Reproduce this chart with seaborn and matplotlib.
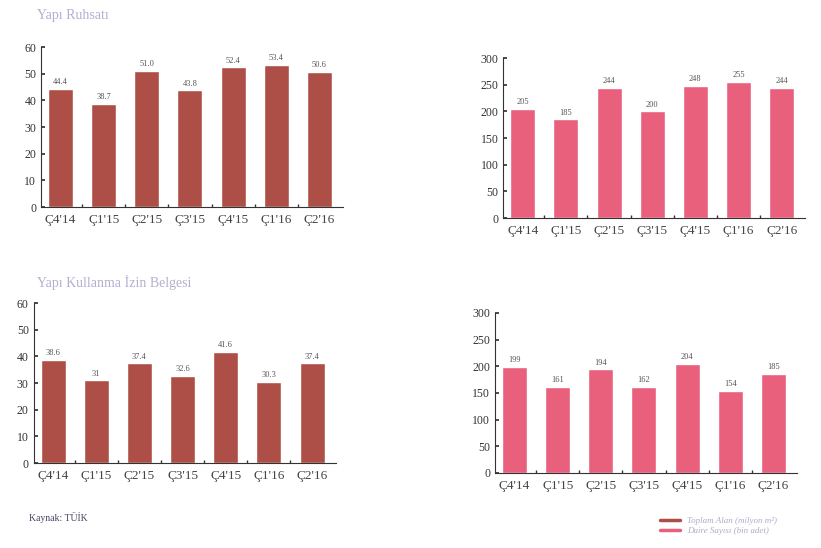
import seaborn as sns
import matplotlib.pyplot as plt
import pandas as pd
from matplotlib.lines import Line2D

quarters = ["Ç4'14", "Ç1'15", "Ç2'15", "Ç3'15", "Ç4'15", "Ç1'16", "Ç2'16"]
ruhsat_alan = [44.4, 38.7, 51.0, 43.8, 52.4, 53.4, 50.6]
ruhsat_daire = [205, 185, 244, 200, 248, 255, 244]
iskan_alan = [38.6, 31, 37.4, 32.6, 41.6, 30.3, 37.4]
iskan_daire = [199, 161, 194, 162, 204, 154, 185]

col_alan = "#ad4f47"
col_daire = "#e8607c"
title_col = "#b4aed0"

sns.set_theme(style="white")
plt.rcParams['font.family'] = ['Liberation Serif', 'DejaVu Serif']

fig = plt.figure(figsize=(8.21, 5.48), dpi=100)


def draw_panel(rect, values, color, ymax, step, fmt):
    ax = fig.add_axes(rect)
    dfrm = pd.DataFrame({'q': quarters, 'v': values})
    sns.barplot(data=dfrm, x='q', y='v', color=color, width=0.58,
                saturation=1, ax=ax)
    ax.set_ylim(0, ymax)
    ax.set_yticks(range(0, ymax + 1, step))
    ax.set_xlim(-0.45, len(quarters) - 0.45)
    ax.set_xticks([i + 0.5 for i in range(len(quarters) - 1)], minor=True)
    ax.set_xlabel("")
    ax.set_ylabel("")
    sns.despine(ax=ax)
    for side in ('left', 'bottom'):
        ax.spines[side].set_color('#333333')
        ax.spines[side].set_linewidth(0.8)
    ax.tick_params(axis='y', direction='in', length=3, labelsize=8.5,
                   colors='#333333', left=True)
    ax.tick_params(axis='x', which='major', length=0, labelsize=9.5,
                   colors='#444444', pad=5)
    ax.tick_params(axis='x', which='minor', direction='in', length=2,
                   bottom=True, colors='#333333')
    for cont in ax.containers:
        ax.bar_label(cont, labels=[fmt(v) for v in values], fontsize=6,
                     color='#555555', padding=2)
    return ax


draw_panel([0.05, 0.622, 0.368, 0.292], ruhsat_alan, col_alan, 60, 10,
           lambda v: f"{v:.1f}")
draw_panel([0.613, 0.602, 0.368, 0.292], ruhsat_daire, col_daire, 300, 50,
           lambda v: f"{v:d}")
draw_panel([0.041, 0.155, 0.368, 0.292], iskan_alan, col_alan, 60, 10,
           lambda v: f"{v:g}")
draw_panel([0.603, 0.137, 0.368, 0.292], iskan_daire, col_daire, 300, 50,
           lambda v: f"{v:d}")

fig.text(0.045, 0.972, "Yapı Ruhsatı", fontsize=10, color=title_col, va='center')
fig.text(0.045, 0.485, "Yapı Kullanma İzin Belgesi", fontsize=10,
         color=title_col, va='center')
fig.text(0.035, 0.055, "Kaynak: TÜİK", fontsize=7, color='#444466', va='center')

handles = [Line2D([], [], color=col_alan, lw=2.5),
           Line2D([], [], color=col_daire, lw=2.5)]
fig.legend(handles, ["Toplam Alan (milyon m²)", "Daire Sayısı (bin adet)"],
           loc='center', bbox_to_anchor=(0.875, 0.04), frameon=False,
           labelcolor='#b0aac8', handlelength=2.2,
           labelspacing=0.2, prop={'style': 'italic', 'size': 6.5})

fig.savefig("out.png", dpi=100)
